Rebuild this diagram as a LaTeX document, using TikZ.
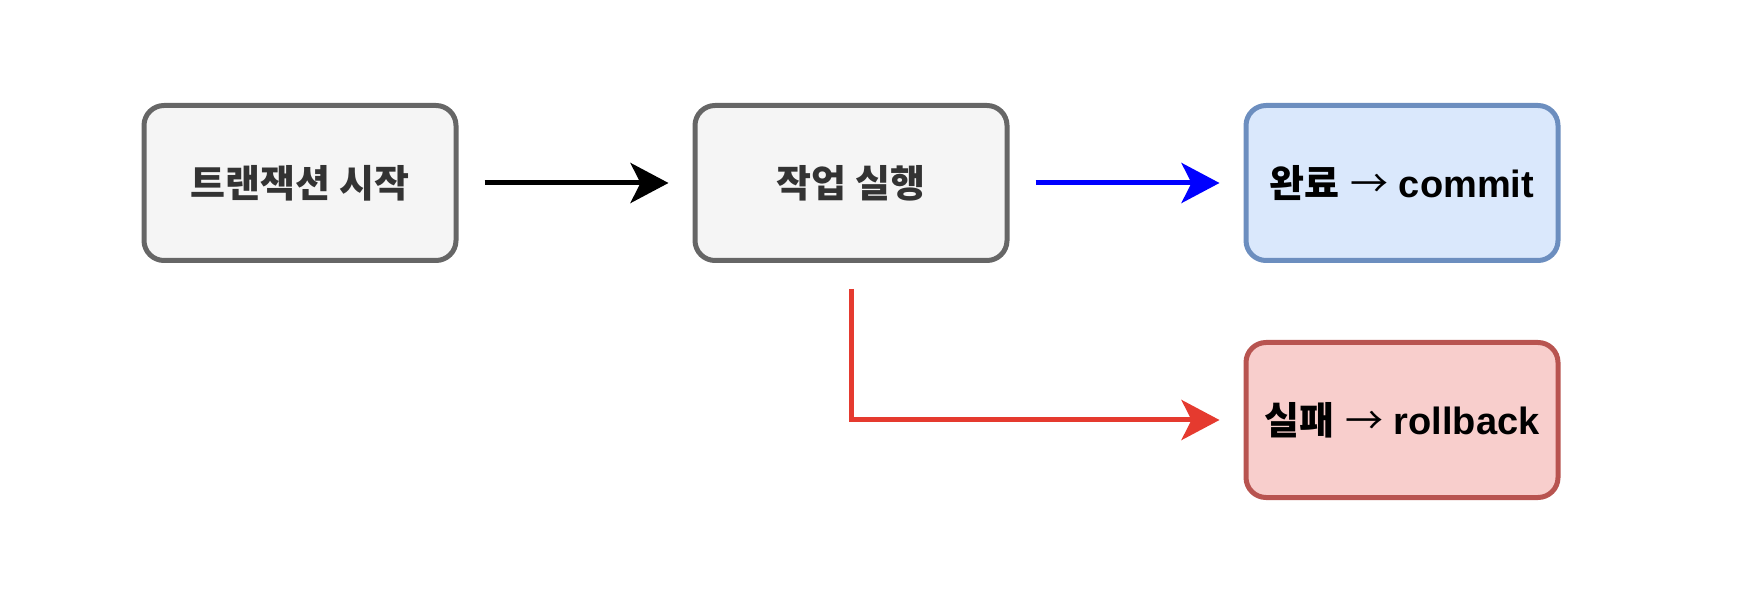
\documentclass[tikz,border=0pt]{standalone}
\usepackage{fontspec}
\setmainfont{Liberation Sans}
\newfontfamily\krfont{Noto Sans CJK KR}
\usetikzlibrary{arrows.meta}
\definecolor{grayfill}{HTML}{F5F5F5}
\definecolor{grayline}{HTML}{666666}
\definecolor{graytext}{HTML}{333333}
\definecolor{bluefill}{HTML}{DAE8FC}
\definecolor{blueline}{HTML}{6C8EBF}
\definecolor{redfill}{HTML}{F8CECC}
\definecolor{redline}{HTML}{B85450}
\definecolor{redarrow}{HTML}{E53A2F}
\newcommand{\kr}[1]{{\krfont\bfseries #1}}
\newcommand{\thinarrow}{{\krfont\mdseries →}}

\begin{document}
\begin{tikzpicture}[x=1pt, y=1pt,
  every node/.style={font=\fontsize{38}{44}\selectfont\bfseries},
  box/.style={draw, rounded corners=20pt, line width=5pt, align=center,
    minimum width=312pt, minimum height=155pt},
  graybox/.style={box, draw=grayline, fill=grayfill, text=graytext},
  bluebox/.style={box, draw=blueline, fill=bluefill, text=black},
  redbox/.style={box, draw=redline, fill=redfill, text=black},
  link/.style={line width=5pt, shorten <=26pt, shorten >=24pt,
    -{Stealth[length=38pt, width=40pt, inset=10pt]}}]
  \useasboundingbox (0,0) rectangle (1742,600);
  \node[graybox] (start) at (300,417) {\kr{트랜잭션 시작}};
  \node[graybox] (work) at (851,417) {\kr{작업 실행}};
  \node[bluebox] (commit) at (1402,417) {\kr{완료} \thinarrow{} commit};
  \node[redbox] (rollback) at (1402,180) {\kr{실패} \thinarrow{} rollback};
  \draw[link, black] (start) -- (work);
  \draw[link, blue] (work) -- (commit);
  \draw[link, redarrow] (work.south) |- (rollback.west);
\end{tikzpicture}
\end{document}
